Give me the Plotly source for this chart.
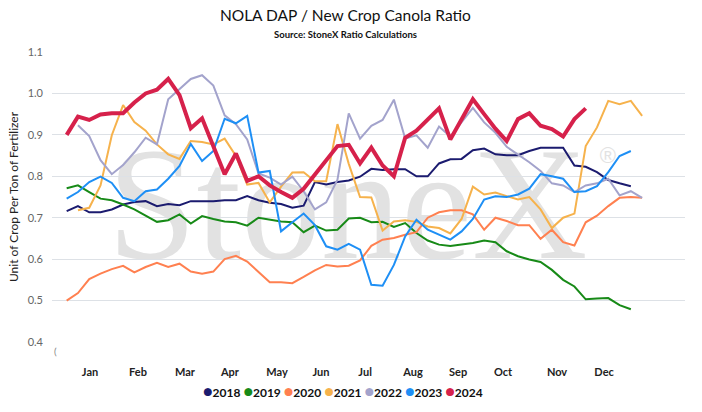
import plotly.graph_objects as go

# weekly ratio values, index 0 = first week of January
years = ["2018", "2019", "2020", "2021", "2022", "2023", "2024"]
colors = ["#1b1b6f", "#178a17", "#ff8050", "#f6b24c", "#a3a3cc", "#1e8ff5", "#d6214b"]

r2018 = [0.716, 0.728, 0.713, 0.713, 0.720, 0.732, 0.738, 0.740, 0.728, 0.733,
         0.730, 0.740, 0.740, 0.740, 0.742, 0.742, 0.752, 0.742, 0.736, 0.733,
         0.724, 0.729, 0.786, 0.780, 0.786, 0.790, 0.799, 0.818, 0.815, 0.817,
         0.817, 0.800, 0.800, 0.831, 0.841, 0.842, 0.863, 0.867, 0.853, 0.851,
         0.851, 0.861, 0.869, 0.869, 0.869, 0.826, 0.823, 0.810, 0.791, 0.783,
         0.776]
r2019 = [0.771, 0.778, 0.762, 0.746, 0.742, 0.732, 0.720, 0.705, 0.690, 0.694,
         0.708, 0.686, 0.704, 0.697, 0.691, 0.689, 0.681, 0.700, 0.695, 0.691,
         0.689, 0.665, 0.681, 0.669, 0.671, 0.698, 0.700, 0.689, 0.690, 0.678,
         0.687, 0.663, 0.645, 0.635, 0.632, 0.635, 0.639, 0.645, 0.641, 0.619,
         0.607, 0.599, 0.593, 0.574, 0.550, 0.534, 0.503, 0.505, 0.506, 0.489,
         0.479]
r2020 = [0.500, 0.518, 0.552, 0.565, 0.576, 0.584, 0.568, 0.581, 0.591, 0.581,
         0.589, 0.570, 0.565, 0.570, 0.600, 0.608, 0.594, 0.570, 0.544, 0.544,
         0.542, 0.557, 0.573, 0.586, 0.582, 0.584, 0.597, 0.632, 0.647, 0.651,
         0.659, 0.665, 0.700, 0.713, 0.718, 0.718, 0.708, 0.671, 0.700, 0.692,
         0.682, 0.682, 0.649, 0.671, 0.641, 0.633, 0.689, 0.705, 0.728, 0.748,
         0.750, 0.748]
r2021 = [None, 0.718, 0.724, 0.778, 0.899, 0.972, 0.931, 0.910, 0.877, 0.853,
         0.842, 0.885, 0.883, 0.877, 0.891, 0.849, 0.780, 0.784, 0.737, 0.775,
         0.809, 0.810, 0.788, 0.788, 0.926, 0.830, 0.750, 0.749, 0.669, 0.691,
         0.694, 0.690, 0.679, 0.675, 0.662, 0.697, 0.775, 0.756, 0.761, 0.752,
         0.744, 0.750, 0.720, 0.675, 0.700, 0.710, 0.873, 0.918, 0.982, 0.974,
         0.982, 0.946]
r2022 = [None, 0.923, 0.897, 0.839, 0.805, 0.827, 0.858, 0.893, 0.877, 0.986,
         1.010, 1.035, 1.044, 1.019, 0.947, 0.926, 0.889, 0.807, 0.797, 0.780,
         0.799, 0.764, 0.720, 0.737, 0.792, 0.952, 0.891, 0.922, 0.936, 0.985,
         0.891, 0.899, 0.869, 0.920, 0.896, 0.930, 0.965, 0.930, 0.905, 0.871,
         0.853, 0.834, 0.813, 0.783, 0.778, 0.762, 0.778, 0.783, 0.794, 0.754,
         0.764, 0.748]
r2023 = [0.746, 0.762, 0.786, 0.799, 0.784, 0.748, 0.740, 0.764, 0.768, 0.794,
         0.825, 0.878, 0.837, 0.861, 0.939, 0.928, 0.946, 0.809, 0.813, 0.667,
         0.689, 0.710, 0.682, 0.631, 0.623, 0.637, 0.623, 0.538, 0.536, 0.586,
         0.655, 0.695, 0.671, 0.659, 0.647, 0.667, 0.697, 0.744, 0.752, 0.750,
         0.756, 0.770, 0.805, 0.800, 0.794, 0.762, 0.764, 0.776, 0.810, 0.849,
         0.861]
r2024 = [0.900, 0.944, 0.936, 0.949, 0.952, 0.952, 0.978, 1.000, 1.009, 1.035,
         0.996, 0.916, 0.940, 0.875, 0.805, 0.855, 0.789, 0.800, 0.778, 0.762,
         0.748, 0.770, 0.805, 0.837, 0.873, 0.876, 0.831, 0.869, 0.826, 0.800,
         0.893, 0.910, 0.938, 0.964, 0.889, 0.938, 0.986, 0.950, 0.915, 0.885,
         0.938, 0.952, 0.922, 0.914, 0.896, 0.938, 0.964]

series = [r2018, r2019, r2020, r2021, r2022, r2023, r2024]

month_labels = ["Jan", "Feb", "Mar", "Apr", "May", "Jun",
                "Jul", "Aug", "Sep", "Oct", "Nov", "Dec"]
month_pos = [2.07, 6.32, 10.48, 14.47, 18.64, 22.54,
             26.45, 30.7, 34.69, 38.68, 43.46, 47.63]

FONT = "Lato"

fig = go.Figure()
for yr, vals, col in zip(years, series, colors):
    fig.add_trace(go.Scatter(
        x=list(range(len(vals))), y=vals, name=yr, mode="lines",
        line=dict(color=col, width=4 if yr == "2024" else 2),
        showlegend=False))

# watermark, behind the lines
fig.add_shape(type="rect", xref="paper", yref="paper",
              x0=0.067, x1=0.867, y0=0.264, y1=0.804, layer="below",
              line=dict(width=0), fillcolor="rgba(0,0,0,0)",
              label=dict(text="StoneX", textposition="middle center",
                         font=dict(family="Liberation Serif", size=160, color="#e2e2e2")))
fig.add_shape(type="rect", xref="paper", yref="paper",
              x0=0.848, x1=0.908, y0=0.60, y1=0.70, layer="below",
              line=dict(width=0), fillcolor="rgba(0,0,0,0)",
              label=dict(text="®", textposition="middle center",
                         font=dict(family="Liberation Sans", size=22, color="#e2e2e2")))

legend_txt = " ".join(
    f"<span style='color:{c};font-size:16px'>●</span>{y}" for y, c in zip(years, colors))
fig.add_annotation(text="<b>" + legend_txt + "</b>", xref="paper", yref="paper",
                   x=0.460, y=-0.166, showarrow=False, xanchor="center", yanchor="middle",
                   font=dict(family=FONT, size=12, color="#111"))

fig.add_annotation(text="<b>Source: StoneX Ratio Calculations</b>", xref="paper", yref="paper",
                   x=0.463, y=1.061, showarrow=False, xanchor="center", yanchor="middle",
                   font=dict(family=FONT, size=9.5, color="#111"))
fig.add_annotation(text="(", xref="paper", yref="paper", x=0.005, y=-0.03,
                   showarrow=False, xanchor="center", yanchor="middle",
                   font=dict(family=FONT, size=10, color="#888"))

fig.update_layout(
    width=702, height=412,
    margin=dict(l=52, r=17, t=52, b=70),
    paper_bgcolor="white", plot_bgcolor="white",
    title=dict(text="NOLA DAP / New Crop Canola Ratio", x=0.492, xanchor="center",
               y=1 - 15.5 / 412, yanchor="middle", yref="container",
               font=dict(family=FONT, size=15.5, color="#111")),
    font=dict(family=FONT),
    xaxis=dict(range=[-1.3, 54.8], tickvals=month_pos, ticktext=month_labels,
               showgrid=False, zeroline=False, showline=False, ticks="",
               ticklabelstandoff=22,
               tickfont=dict(family=FONT, size=11, color="#222", weight="bold")),
    yaxis=dict(range=[0.4, 1.1], dtick=0.1, tickformat=".1f",
               showgrid=True, gridcolor="#dde1e6", gridwidth=1,
               zeroline=False, showline=False, ticklabelstandoff=8,
               tickfont=dict(family=FONT, size=11, color="#666"),
               title=dict(text="Unit of Crop Per Ton of Fertilizer", standoff=6,
                          font=dict(family=FONT, size=12, color="#222"))),
)

fig.write_html("out.html", config={"displayModeBar": False},
               post_script="document.body.style.margin='0';")
